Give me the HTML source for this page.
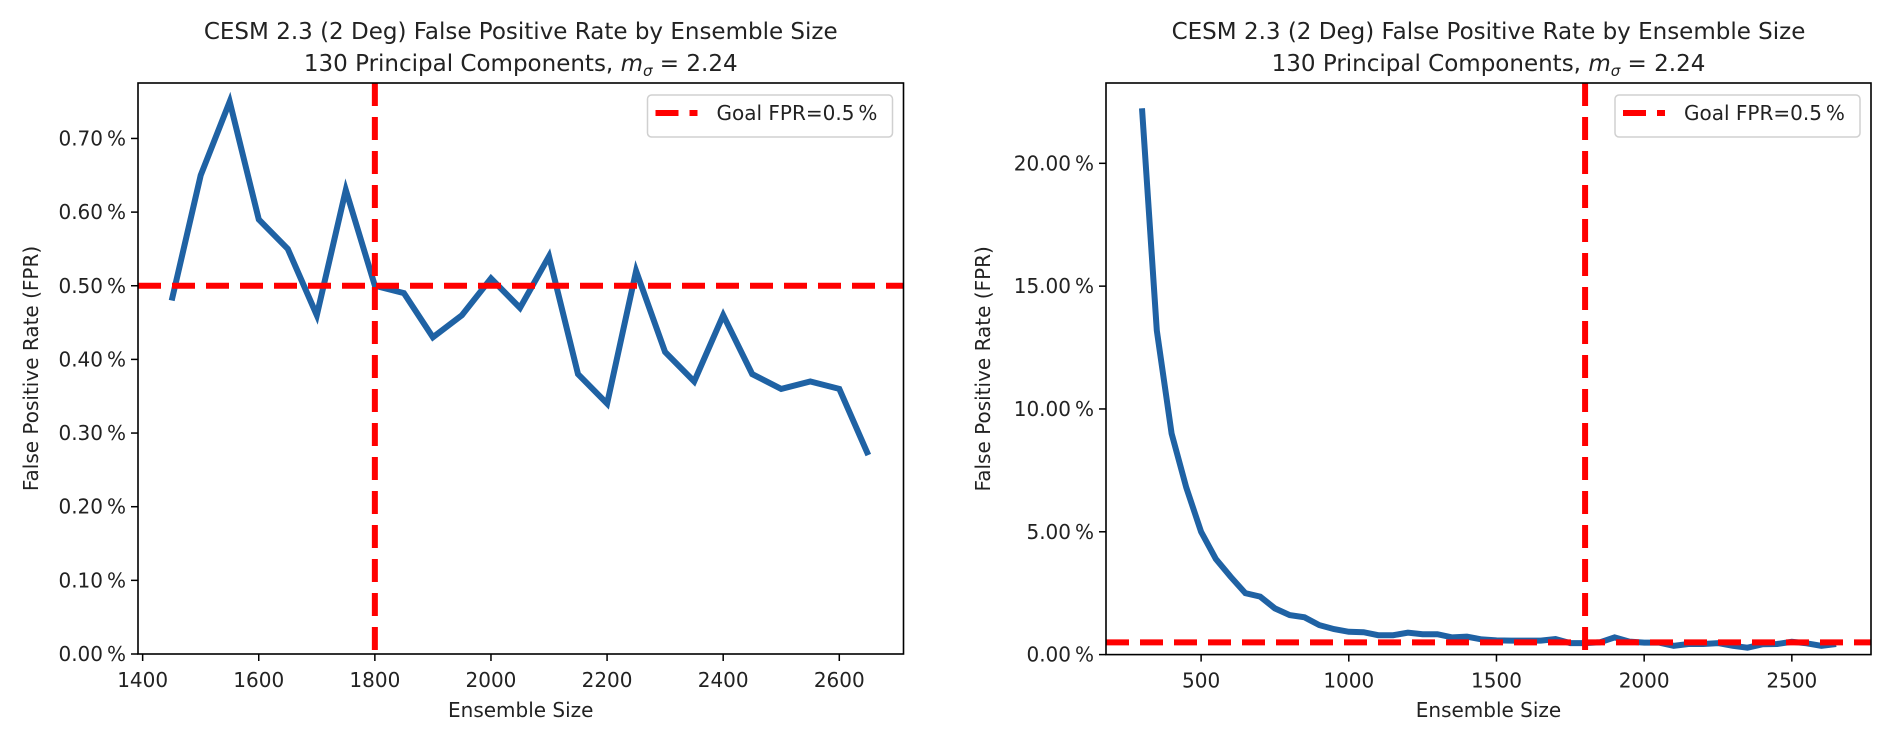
<!DOCTYPE html>
<html><head><meta charset="utf-8">
<style>
html,body{margin:0;padding:0;background:#fff;}
svg{display:block;font-family:"DejaVu Sans","Liberation Sans",sans-serif;}
</style></head>
<body>
<svg id="fig" width="1892" height="736" viewBox="0 0 1892 736" xmlns="http://www.w3.org/2000/svg"></svg>
<script>
// Left chart data
const leftSizes = [1450,1500,1550,1600,1650,1700,1750,1800,1850,1900,1950,2000,2050,2100,2150,2200,2250,2300,2350,2400,2450,2500,2550,2600,2650];
const leftFPR = [0.48,0.65,0.75,0.59,0.55,0.46,0.63,0.50,0.49,0.43,0.46,0.51,0.47,0.54,0.38,0.34,0.52,0.41,0.37,0.46,0.38,0.36,0.37,0.36,0.27];
const leftXTicks = [1400,1600,1800,2000,2200,2400,2600];
const leftYTicks = [0,0.1,0.2,0.3,0.4,0.5,0.6,0.7];
// Right chart data
const rightSizes = [300,350,400,450,500,550,600,650,700,750,800,850,900,950,1000,1050,1100,1150,1200,1250,1300,1350,1400,1450,1500,1550,1600,1650,1700,1750,1800,1850,1900,1950,2000,2050,2100,2150,2200,2250,2300,2350,2400,2450,2500,2550,2600,2650];
const rightFPR = [22.24,13.2,9.0,6.8,5.0,3.89,3.17,2.5,2.36,1.88,1.61,1.52,1.2,1.04,0.93,0.91,0.79,0.79,0.89,0.83,0.83,0.70,0.73,0.62,0.58,0.57,0.57,0.57,0.63,0.47,0.47,0.50,0.70,0.53,0.49,0.49,0.36,0.43,0.43,0.47,0.36,0.28,0.42,0.43,0.52,0.46,0.36,0.43];
const rightXTicks = [500,1000,1500,2000,2500];
const rightYTicks = [0,5,10,15,20];
const goalFPR = 0.5;
const goalSize = 1800;

const NS = "http://www.w3.org/2000/svg";
const svg = document.getElementById('fig');
function mk(tag, attrs, parent){
  const e = document.createElementNS(NS, tag);
  for (const k in attrs) e.setAttribute(k, attrs[k]);
  (parent||svg).appendChild(e);
  return e;
}

function drawChart(o){
  const g = mk('g', {});
  
  
  const sx = v => o.L + (v - o.xmin) / (o.xmax - o.xmin) * (o.R - o.L);
  const sy = v => o.B - (v - o.ymin) / (o.ymax - o.ymin) * (o.B - o.T);
  const cx = (o.L + o.R) / 2;
  // titles
  const t1 = mk('text', {x:cx, y:39, 'text-anchor':'middle', 'font-size':23, fill:'#222'}, g);
  t1.textContent = 'CESM 2.3 (2 Deg) False Positive Rate by Ensemble Size';
  
  
  const t2 = mk('text', {x:cx, y:71, 'text-anchor':'middle', 'font-size':23, fill:'#222'}, g);
  t2.innerHTML = '130 Principal Components, <tspan font-style="italic">m</tspan><tspan font-style="italic" font-size="15" dy="5">σ</tspan><tspan dy="-5"> = 2.24</tspan>';
  
  
  // clip
  const cid = 'clip-' + o.name;
  const cp = mk('clipPath', {id: cid}, g);
  mk('rect', {x:o.L, y:o.T, width:o.R - o.L, height:o.B - o.T}, cp);
  const plot = mk('g', {'clip-path':'url(#' + cid + ')'}, g);
  // series
  let d = '';
  o.xs.forEach((x, i) => { d += (i ? 'L' : 'M') + sx(x).toFixed(1) + ' ' + sy(o.ys[i]).toFixed(1); });
  const line = mk('path', {d:d, fill:'none', stroke:'#1f62a4', 'stroke-width':6, 'stroke-linejoin':'miter'}, plot);
  
  
  // goal lines
  const hl = mk('line', {x1:o.L, x2:o.R, y1:sy(goalFPR), y2:sy(goalFPR), stroke:'#ff0000', 'stroke-width':6, 'stroke-dasharray':'23 11'}, plot);
  
  
  const vl = mk('line', {x1:sx(goalSize), x2:sx(goalSize), y1:o.T, y2:o.B, stroke:'#ff0000', 'stroke-width':6, 'stroke-dasharray':'23 11'}, plot);
  
  
  // frame
  const fr = mk('rect', {x:o.L, y:o.T, width:o.R - o.L, height:o.B - o.T, fill:'none', stroke:'#000', 'stroke-width':1.6}, g);
  
  
  // x ticks
  o.xticks.forEach(v => {
    const x = sx(v);
    mk('line', {x1:x, x2:x, y1:o.B, y2:o.B + 7, stroke:'#000', 'stroke-width':1.5}, g);
    const t = mk('text', {x:x, y:o.B + 33, 'text-anchor':'middle', 'font-size':20, fill:'#222'}, g);
    t.textContent = String(v);
    
    
  });
  // y ticks
  o.yticks.forEach(v => {
    const y = sy(v);
    mk('line', {x1:o.L - 7, x2:o.L, y1:y, y2:y, stroke:'#000', 'stroke-width':1.5}, g);
    const t = mk('text', {x:o.L - 12, y:y + 7, 'text-anchor':'end', 'font-size':20, fill:'#222'}, g);
    t.textContent = v.toFixed(2) + '\u2009%';
    
    
  });
  // axis titles
  const xt = mk('text', {x:cx, y:717, 'text-anchor':'middle', 'font-size':20, fill:'#222'}, g);
  xt.textContent = 'Ensemble Size';
  
  
  const ymid = (o.T + o.B) / 2;
  const yt = mk('text', {x:o.ylabX, y:ymid, 'text-anchor':'middle', 'font-size':20, fill:'#222', transform:'rotate(-90 ' + o.ylabX + ' ' + ymid + ')'}, g);
  yt.textContent = 'False Positive Rate (FPR)';
  
  
  // legend
  const lg = mk('g', {}, g);
  
  
  const lx = o.R - 256;
  mk('rect', {x:lx, y:95, width:245, height:42, rx:4, fill:'#fff', 'fill-opacity':0.8, stroke:'#d0d0d0', 'stroke-width':1.5}, lg);
  mk('line', {x1:lx + 8, x2:lx + 50, y1:113, y2:113, stroke:'#ff0000', 'stroke-width':6, 'stroke-dasharray':'23 11'}, lg);
  const lt = mk('text', {x:lx + 69, y:120, 'font-size':20, fill:'#222'}, lg);
  lt.textContent = 'Goal FPR=0.5\u2009%';
  
  
}

drawChart({name:'left-chart', L:138, R:903.5, T:83, B:654, xmin:1392, xmax:2710.6, ymin:0, ymax:0.7753,
  xs:leftSizes, ys:leftFPR, xticks:leftXTicks, yticks:leftYTicks, ylabX:38});
drawChart({name:'right-chart', L:1106, R:1871, T:83, B:654.6, xmin:178, xmax:2768, ymin:0, ymax:23.27,
  xs:rightSizes, ys:rightFPR, xticks:rightXTicks, yticks:rightYTicks, ylabX:990});
</script>
</body></html>
